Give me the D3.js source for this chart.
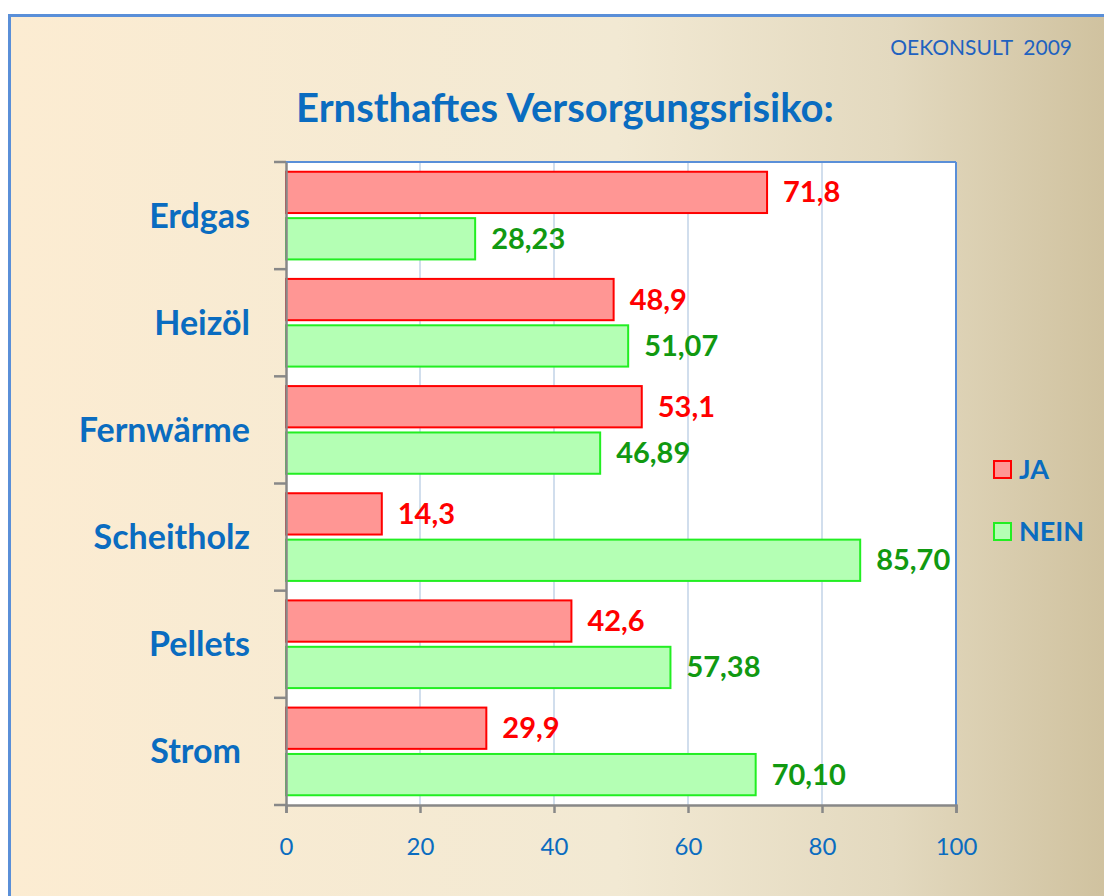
<!DOCTYPE html>
<html>
<head>
<meta charset="utf-8">
<script src="https://cdn.jsdelivr.net/npm/d3@7"></script>
<style>
  body { margin: 0; background: #fff; }
  svg text { font-family: Lato, "Open Sans", sans-serif; }
</style>
</head>
<body>
<div id="chart"></div>
<script>

var categories = ['Erdgas', 'Heizöl', 'Fernwärme', 'Scheitholz', 'Pellets', 'Strom'];
var seriesNames = ['JA', 'NEIN'];
var jaValues = [71.8, 48.9, 53.1, 14.3, 42.6, 29.9];
var neinValues = [28.23, 51.07, 46.89, 85.70, 57.38, 70.10];
var jaLabels = ['71,8', '48,9', '53,1', '14,3', '42,6', '29,9'];
var neinLabels = ['28,23', '51,07', '46,89', '85,70', '57,38', '70,10'];
var xTicks = [0, 20, 40, 60, 80, 100];

var width = 1104, height = 896;
var blue = '#0a6cc0';

var svg = d3.select('#chart').append('svg')
    .attr('width', width)
    .attr('height', height);

// background gradient
var grad = svg.append('defs').append('linearGradient')
    .attr('id', 'bg')
    .attr('x1', 0).attr('x2', 1).attr('y1', 0).attr('y2', 0);
grad.append('stop').attr('offset', 0).attr('stop-color', '#fcecd2');
grad.append('stop').attr('offset', 0.55).attr('stop-color', '#f2e9d3');
grad.append('stop').attr('offset', 0.8).attr('stop-color', '#e3d9bf');
grad.append('stop').attr('offset', 1).attr('stop-color', '#cfc19e');

svg.append('rect')
    .attr('x', 9.5).attr('y', 15.5)
    .attr('width', width).attr('height', height)
    .attr('fill', 'url(#bg)')
    .attr('stroke', '#5a8fd8')
    .attr('stroke-width', 3);

svg.append('text')
    .attr('x', 1072).attr('y', 55)
    .attr('text-anchor', 'end')
    .attr('fill', '#1f62c0')
    .style('font-size', '21px')
    .style('white-space', 'pre')
    .text('OEKONSULT  2009');

svg.append('text')
    .attr('x', 565).attr('y', 122)
    .attr('text-anchor', 'middle')
    .attr('fill', blue)
    .style('font-size', '40px')
    .style('font-weight', 'bold')
    .text('Ernsthaftes Versorgungsrisiko:');

var margin = {left: 286, right: 956, top: 162, bottom: 805};

var x = d3.scaleLinear().domain([0, 100]).range([margin.left, margin.right]);
var y = d3.scaleBand().domain(categories).range([margin.top, margin.bottom]);
var sub = d3.scaleBand().domain(seriesNames).range([0, y.bandwidth()])
    .paddingInner(0.11).paddingOuter(0.21);

// plot area
svg.append('rect')
    .attr('x', margin.left).attr('y', margin.top)
    .attr('width', margin.right - margin.left)
    .attr('height', margin.bottom - margin.top)
    .attr('fill', '#fff');

// gridlines
svg.append('g').selectAll('line')
    .data(xTicks.slice(1))
    .enter().append('line')
    .attr('x1', d => x(d)).attr('x2', d => x(d))
    .attr('y1', margin.top).attr('y2', margin.bottom)
    .attr('stroke', d => d === 100 ? '#5a8fd8' : '#b8cce4')
    .attr('stroke-width', d => d === 100 ? 2 : 1.3);

svg.append('line')
    .attr('x1', margin.left).attr('x2', margin.right)
    .attr('y1', margin.top).attr('y2', margin.top)
    .attr('stroke', '#5a8fd8').attr('stroke-width', 2);

var rows = categories.map(function(c, i) {
    return {cat: c, vals: [
        {s: 'JA', v: jaValues[i], label: jaLabels[i]},
        {s: 'NEIN', v: neinValues[i], label: neinLabels[i]}
    ]};
});

var colorFill = {JA: '#ff9694', NEIN: '#b4ffb4'};
var colorStroke = {JA: '#ff0000', NEIN: '#22ee22'};
var colorText = {JA: '#ff0000', NEIN: '#119911'};

var groups = svg.append('g').selectAll('g')
    .data(rows)
    .enter().append('g')
    .attr('transform', d => 'translate(0,' + y(d.cat) + ')');

groups.selectAll('rect')
    .data(d => d.vals)
    .enter().append('rect')
    .attr('x', x(0))
    .attr('y', d => sub(d.s))
    .attr('width', d => x(d.v) - x(0))
    .attr('height', sub.bandwidth())
    .attr('fill', d => colorFill[d.s])
    .attr('stroke', d => colorStroke[d.s])
    .attr('stroke-width', 2);

groups.selectAll('text')
    .data(d => d.vals)
    .enter().append('text')
    .attr('x', d => x(d.v) + 16)
    .attr('y', d => sub(d.s) + sub.bandwidth() / 2 + 10)
    .attr('fill', d => colorText[d.s])
    .style('font-size', '29px')
    .style('font-weight', 'bold')
    .text(d => d.label);

// axes
var xAxis = d3.axisBottom(x).tickValues(xTicks).tickSize(8).tickFormat(d => d);
var gx = svg.append('g')
    .attr('transform', 'translate(0,' + margin.bottom + ')')
    .call(xAxis);
gx.select('.domain').attr('stroke', '#888').attr('stroke-width', 2.5);
gx.selectAll('.tick line').attr('stroke', '#888').attr('stroke-width', 2.5);
gx.selectAll('.tick text')
    .attr('y', 50)
    .attr('dy', 0)
    .attr('fill', blue)
    .style('font-size', '24px');

var yAxis = d3.axisLeft(y).tickSize(0).tickFormat('');
var gy = svg.append('g')
    .attr('transform', 'translate(' + margin.left + ',0)')
    .call(yAxis);
gy.select('.domain').attr('stroke', '#888').attr('stroke-width', 2.5);

// category boundary ticks
var bounds = categories.map(c => y(c)).concat([margin.bottom]);
svg.append('g').selectAll('line')
    .data(bounds)
    .enter().append('line')
    .attr('x1', margin.left - 12).attr('x2', margin.left)
    .attr('y1', d => d).attr('y2', d => d)
    .attr('stroke', '#888').attr('stroke-width', 2.5);

svg.append('g').selectAll('text')
    .data(categories)
    .enter().append('text')
    .attr('x', d => d === 'Strom' ? 241 : 250)
    .attr('y', d => y(d) + y.bandwidth() / 2 + 12)
    .attr('text-anchor', 'end')
    .attr('fill', blue)
    .style('font-size', '34px')
    .style('font-weight', 'bold')
    .text(d => d);

// legend
var legend = svg.append('g').selectAll('g')
    .data(seriesNames)
    .enter().append('g')
    .attr('transform', (d, i) => 'translate(994,' + (461 + i * 62) + ')');

legend.append('rect')
    .attr('width', 17).attr('height', 17)
    .attr('fill', d => colorFill[d])
    .attr('stroke', d => colorStroke[d])
    .attr('stroke-width', 2);

legend.append('text')
    .attr('x', 25).attr('y', 18)
    .attr('fill', blue)
    .style('font-size', '27px')
    .style('font-weight', 'bold')
    .text(d => d);

</script>
</body>
</html>
